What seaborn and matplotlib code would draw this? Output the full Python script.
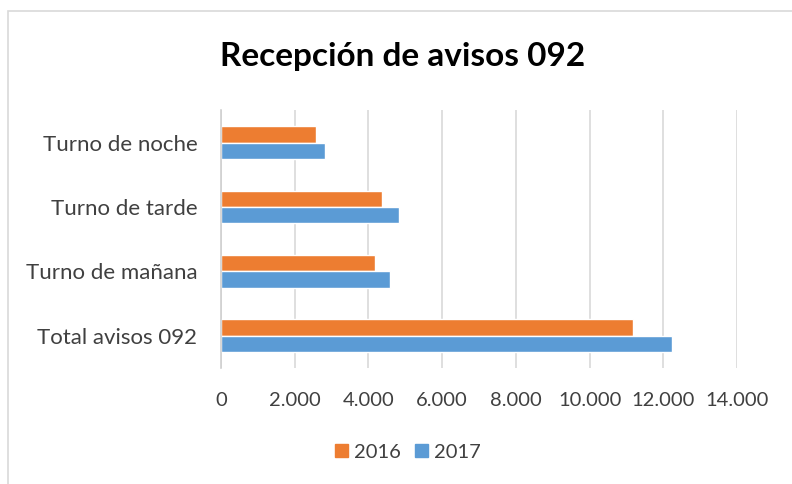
import matplotlib
matplotlib.use("Agg")
import matplotlib.pyplot as plt
from matplotlib.patches import Rectangle
from matplotlib.ticker import FuncFormatter
import seaborn as sns
import pandas as pd

categories = ["Turno de noche", "Turno de tarde", "Turno de mañana", "Total avisos 092"]
years = ["2016", "2017"]
values_2016 = [2590, 4367, 4185, 11168]
values_2017 = [2835, 4819, 4584, 12247]
xticks = [0, 2000, 4000, 6000, 8000, 10000, 12000, 14000]
title = "Recepción de avisos 092"
colors = ["#ED7D31", "#5B9BD5"]

df = pd.DataFrame({
    "categoria": categories * 2,
    "year": [years[0]] * len(categories) + [years[1]] * len(categories),
    "valor": values_2016 + values_2017,
})

sns.set_theme(style="white")
plt.rcParams["font.family"] = ["Lato", "DejaVu Sans"]
text_color = "#404040"

W, H = 792, 484
fig = plt.figure(figsize=(W / 100, H / 100), dpi=100)
ax = fig.add_axes([221 / W, 1 - 368 / H, (737 - 221) / W, (368 - 110.4) / H])

sns.barplot(data=df, y="categoria", x="valor", hue="year", order=categories,
            hue_order=years, palette=colors, orient="h", width=0.51,
            saturation=1, ax=ax, legend=True)

ax.set_xlim(0, 14000)
ax.set_xticks(xticks)
ax.xaxis.set_major_formatter(FuncFormatter(lambda v, p: f"{int(v):,}".replace(",", ".")))
ax.grid(axis="x", color="#d9d9d9", linewidth=1.2)
ax.set_axisbelow(True)
for s in ["top", "right", "bottom"]:
    ax.spines[s].set_visible(False)
ax.spines["left"].set_color("#d0d0d0")
ax.spines["left"].set_linewidth(1.2)
ax.set_xlabel("")
ax.set_ylabel("")
ax.tick_params(axis="both", length=0, colors=text_color)
ax.tick_params(axis="x", pad=17, labelsize=14.5)
ax.tick_params(axis="y", pad=17, labelsize=16)

ax.legend_.remove()
handles = [Rectangle((0, 0), 1, 1, color=c) for c in colors]
fig.legend(handles, years, loc="center", bbox_to_anchor=(408 / W, 1 - 452 / H),
           ncol=2, frameon=False, fontsize=14.5, handlelength=0.65, handleheight=0.65,
           handletextpad=0.3, columnspacing=0.7, labelcolor=text_color)

fig.text(403 / W, 1 - 66 / H, title, ha="center", va="baseline", fontsize=24,
         fontweight="bold", color="black")

fig.add_artist(Rectangle((8 / W, -0.1), 1.5, 1 - 11 / H + 0.1, fill=False,
                         edgecolor="#d9d9d9", linewidth=1.2, transform=fig.transFigure))

fig.savefig("out.png", dpi=100, facecolor="white")
